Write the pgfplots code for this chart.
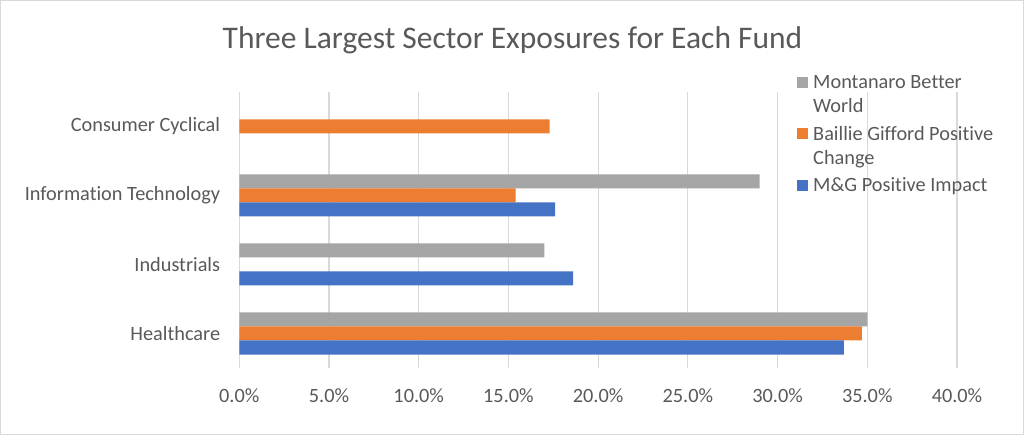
\documentclass[border=0pt]{standalone}
\usepackage{fontspec}
\setmainfont{Carlito}[Ligatures=NoCommon]
\usepackage{pgfplots}
\pgfplotsset{compat=1.18}
\definecolor{mgblue}{HTML}{4472C4}
\definecolor{bgorange}{HTML}{ED7D31}
\definecolor{mbgray}{HTML}{A5A5A5}
\definecolor{txt}{HTML}{595959}
\definecolor{gridc}{HTML}{D9D9D9}

\begin{document}
\begin{tikzpicture}
% frame of the whole chart, 1024 x 435 bp
\useasboundingbox (0bp,0bp) rectangle (1024bp,435bp);
\draw[gridc, line width=1bp] (0.5bp,0.5bp) rectangle (1023.5bp,434.5bp);
\node[anchor=base, text=txt, font=\fontsize{31.5bp}{37bp}\selectfont, inner sep=0pt]
  at (512.5bp,386.7bp) {Three Largest Sector Exposures for Each Fund};
\begin{axis}[
  at={(239.3bp,67bp)}, anchor=south west,
  scale only axis, width=717.7bp, height=276bp,
  xbar, bar width=14bp,
  xmin=0, xmax=40, ymin=-0.5, ymax=3.5,
  axis line style={draw=none},
  major tick length=0pt,
  xtick={0,5,...,40},
  xticklabels={0.0\%,5.0\%,10.0\%,15.0\%,20.0\%,25.0\%,30.0\%,35.0\%,40.0\%},
  ytick={0,1,2,3},
  yticklabels={Healthcare,Industrials,Information Technology,Consumer Cyclical},
  xmajorgrids, grid style={gridc, line width=1.2bp},
  ticklabel style={font=\fontsize{20.3bp}{24bp}\selectfont, text=txt, inner sep=0pt},
  xticklabel style={anchor=north, yshift=-20bp},
  yticklabel style={anchor=east, xshift=-19bp},
  legend style={at={(0.7771,1.067)}, anchor=north west, draw=none, fill=none,
    inner sep=0pt, font=\fontsize{20.3bp}{24bp}\selectfont, text=txt,
    row sep=8bp, column sep=3bp, cells={align=left, anchor=west}},
  legend cell align=left,
  legend image code/.code={\fill[#1] (0bp,-5.5bp) rectangle (11bp,5.5bp);},
]
\addplot[fill=mbgray, draw=none, bar shift=14bp,
  legend image post style={yshift=12bp}] coordinates {(35.0,0) (17.0,1) (29.0,2)};
\addlegendentry{Montanaro Better\\World}
\addplot[fill=bgorange, draw=none, bar shift=0bp,
  legend image post style={yshift=12bp}] coordinates {(34.7,0) (15.4,2) (17.3,3)};
\addlegendentry{Baillie Gifford Positive\\Change}
\addplot[fill=mgblue, draw=none, bar shift=-14bp] coordinates {(33.7,0) (18.6,1) (17.6,2)};
\addlegendentry{M\&G Positive Impact}
\end{axis}
\end{tikzpicture}
\end{document}
